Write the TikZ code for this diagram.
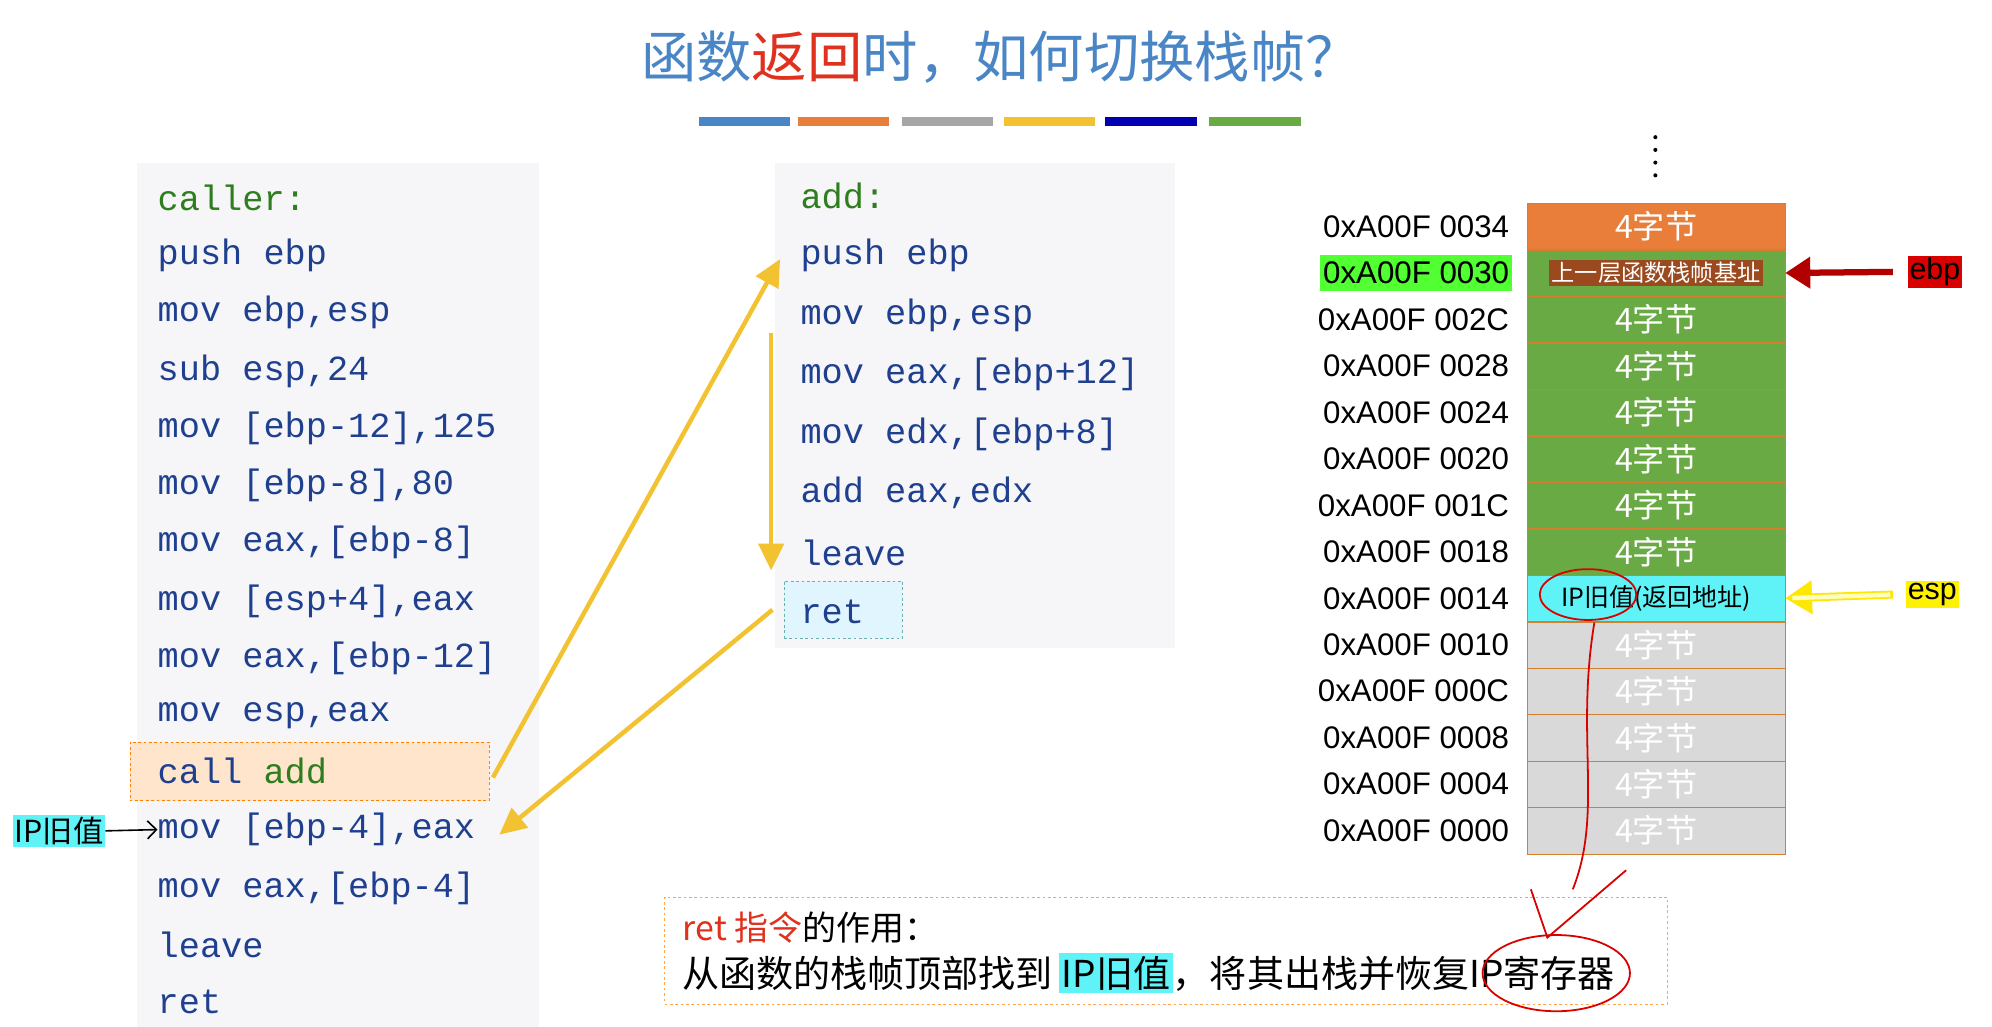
\documentclass[tikz,border=0pt]{standalone}
\usepackage{fontspec}
\setmainfont{Liberation Sans}
\newfontfamily\cjk{Noto Sans CJK SC}
\newfontfamily\codef{Liberation Mono}
\usetikzlibrary{arrows.meta}
\definecolor{cblue}{HTML}{1F3F8F}
\definecolor{cgreen}{HTML}{2E7D1E}
\definecolor{tblue}{HTML}{4A86C5}
\definecolor{tred}{HTML}{E0301E}
\definecolor{panel}{HTML}{F6F6F8}
\definecolor{arr}{HTML}{F2C230}
\definecolor{sgreen}{HTML}{6AAA45}
\definecolor{sorange}{HTML}{E87E3A}
\definecolor{sgray}{HTML}{D9D9D9}
\definecolor{cyanhl}{HTML}{5FF3F8}
\definecolor{brownbox}{HTML}{9A4A1E}
\tikzset{
 codeln/.style={anchor=west,inner sep=0pt,font=\codef\fontsize{39.5}{41}\selectfont,text=cblue},
 addr/.style={anchor=east,inner sep=0pt,font=\fontsize{35}{37}\selectfont},
 cellbox/.style={draw=brown!70!orange,minimum width=10.15cm,minimum height=1.815cm,inner sep=0pt,text=white,font=\cjk\fontsize{36}{38}\selectfont},
 yarr/.style={draw=arr,line width=5pt,-{Triangle[length=30pt,width=28pt]}}
}
\begin{document}
\begin{tikzpicture}[x=0.05cm,y=-0.05cm]
\useasboundingbox (0,0) rectangle (1568,808);
\fill[white] (0,0) rectangle (1568,808);
% title
\node (title) at (788,45) {\cjk\fontsize{62}{64}\selectfont\textcolor{tblue}{函数}\textcolor{tred}{返回}\textcolor{tblue}{时，如何切换栈帧？}};
\foreach \a/\c in {550/tblue,628/sorange,710/gray!70,790/arr,870/blue!70!black,952/sgreen}
  \fill[\c] (\a,92) rectangle ++(72,7);
% left panel
\fill[panel] (108,128) rectangle (424,808);
\node[draw=orange,dashed,fill=orange!20,minimum width=14.15cm,minimum height=2.3cm,anchor=north west,inner sep=0pt] (callbox) at (102,584) {};
\node[codeln,text=cgreen] (c0) at (124,156) {caller:};
\foreach \t/\y [count=\i] in {push ebp/201,{mov ebp,esp}/246,{sub esp,24}/292,{mov [ebp-12],125}/337,{mov [ebp-8],80}/382,{mov eax,[ebp-8]}/427,{mov [esp+4],eax}/473,{mov eax,[ebp-12]}/518,{mov esp,eax}/563}
  \node[codeln] (c\i) at (124,\y) {\t};
\node[codeln] (c10) at (124,607) {call \textcolor{cgreen}{add}};
\node[codeln] (c11) at (124,653) {mov [ebp-4],eax};
\node[codeln] (c12) at (124,699) {mov eax,[ebp-4]};
\node[codeln] (c13) at (124,744) {leave};
\node[codeln] (c14) at (124,789) {ret};
\node[fill=cyanhl,inner sep=2pt,anchor=west,font=\cjk\fontsize{34}{36}\selectfont] (ipold) at (10,654) {IP旧值};
\draw[-{Straight Barb[length=10pt]},line width=1.8pt] (ipold.east) -- (c11.west);
% middle panel
\fill[panel] (610,128) rectangle (925,510);
\node[draw=teal!60,dashed,fill=cyan!12,minimum width=4.65cm,minimum height=2.25cm,anchor=north west,inner sep=0pt] (retbox) at (617,457) {};
\node[codeln,text=cgreen] (a0) at (630,154) {add:};
\foreach \t/\y [count=\i] in {push ebp/201,{mov ebp,esp}/248,{mov eax,[ebp+12]}/295,{mov edx,[ebp+8]}/342,{add eax,edx}/388,leave/435,ret/482}
  \node[codeln] (a\i) at (630,\y) {\t};
% yellow arrows
\coordinate (p1) at (388,612); \coordinate (p2) at (614,204);
\coordinate (p3) at (607,262); \coordinate (p4) at (607,449);
\coordinate (p5) at (608,480); \coordinate (p6) at (393,657);
\draw[yarr] (p1) -- (p2);
\draw[yarr] (p3) -- (p4);
\draw[yarr] (p5) -- (p6);
% stack
\node[cellbox,fill=sorange,anchor=north west] (s0) at (1202,160) {4字节};
\node[cellbox,fill=sgreen,anchor=north] (s1) at (s0.south) {\colorbox{brownbox}{\fontsize{26}{28}\selectfont 上一层函数栈帧基址}};
\foreach \i [evaluate=\i as \j using int(\i-1)] in {2,...,7}
  \node[cellbox,fill=sgreen,anchor=north] (s\i) at (s\j.south) {4字节};
\node[cellbox,fill=cyanhl,text=black,anchor=north,font=\cjk\fontsize{28}{30}\selectfont] (s8) at (s7.south) {IP旧值(返回地址)};
\foreach \i [evaluate=\i as \j using int(\i-1)] in {9,...,13}
  \node[cellbox,fill=sgray,anchor=north] (s\i) at (s\j.south) {4字节};
\foreach \l [count=\i from 0] in {0034,0030,002C,0028,0024,0020,001C,0018,0014,0010,000C,0008,0004,0000}
  \node[addr] (l\i) at ([xshift=-0.7cm]s\i.west) {0xA00F \l};
\fill[green!80!lime,opacity=0.8] ([xshift=-0.1cm,yshift=-0.25cm]l1.south west) rectangle ([xshift=0.1cm,yshift=0.25cm]l1.north east);
\node[addr] at (l1.east) {0xA00F 0030};
\coordinate (dtop) at (1303,108);
\foreach \k in {0,...,3} \fill ([yshift=-\k*0.5cm]dtop) circle (0.08cm);
% ebp / esp
\node[fill=red!85!black,inner sep=2pt,font=\fontsize{34}{36}\selectfont] (ebp) at (1523,214) {ebp};
\coordinate (b0) at (1490,214);
\draw[red!70!black,line width=7pt,-{Triangle[length=28pt,width=34pt]}] (b0) -- (s1.east);
\node[fill=yellow,inner sep=2pt,font=\fontsize{34}{36}\selectfont] (esp) at (1521,468) {esp};
\coordinate (e0) at (1490,468);
\draw[draw=yellow!90!orange,line width=9pt,-{Triangle[length=30pt,width=36pt]}] (e0) -- (s8.east);
\draw[draw=yellow!25,line width=5pt,shorten >=8pt,shorten <=3pt] (e0) -- (s8.east);
% bottom note
\node[draw=orange!70,dashed,minimum width=39.45cm,minimum height=4.2cm,anchor=north west] (note) at (523,706) {};
\node[anchor=west,font=\cjk\fontsize{38}{40}\selectfont] (n1) at (535,730) {\textcolor{tred}{ret 指令}的作用：};
\node[anchor=west,font=\cjk\fontsize{41.5}{43}\selectfont,inner sep=0pt] (n2) at (537,766) {从函数的栈帧顶部找到\,\colorbox{cyanhl}{IP旧值}，将其出栈并恢复IP寄存器};
% handwritten annotations
\draw[red!85!black,line width=2pt] (1250,468) ellipse (38 and 20);
\draw[red!85!black,line width=2pt] (1255,490) .. controls (1240,580) and (1262,640) .. (1238,700);
\draw[red!85!black,line width=2pt] (1205,700) -- (1218,738) -- (1280,685);
\draw[red!85!black,line width=2pt] (1225,766) ellipse (58 and 30);
\end{tikzpicture}
\end{document}
